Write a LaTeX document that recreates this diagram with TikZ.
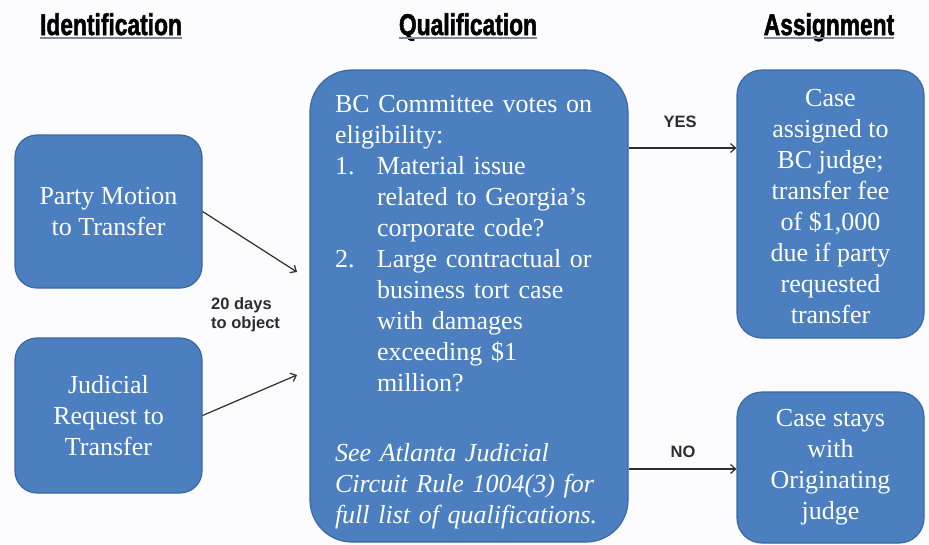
\documentclass[tikz,border=0pt]{standalone}
\usepackage{fontspec}
\setmainfont{Liberation Serif}
\setsansfont{Liberation Sans}
\newfontfamily\hdrfont[BoldFeatures={FakeBold=2}]{Liberation Sans}
\usetikzlibrary{arrows.meta}
\definecolor{boxfill}{HTML}{4C7FBF}
\definecolor{boxedge}{HTML}{3A68A2}
\definecolor{arrowc}{HTML}{2A2E33}
\definecolor{ulc}{HTML}{7F8A99}
\definecolor{bgc}{HTML}{FCFCFE}
\begin{document}
\begin{tikzpicture}[x=1pt,y=-1pt,
  bx/.style={draw=boxedge, line width=1.2pt, fill=boxfill, text=white, inner sep=0pt,
    font=\fontsize{26}{31}\selectfont, align=center},
  hdr/.style={anchor=base, inner sep=0pt, font=\hdrfont\bfseries\fontsize{30}{30}\selectfont},
  ul/.style={draw=ulc, line width=2pt},
  arr/.style={draw=arrowc, line width=1.2pt, -{Straight Barb[length=5pt,width=9pt,line width=1.2pt]}},
  lbl/.style={inner sep=0pt, font=\sffamily\bfseries\fontsize{16.5}{18.5}\selectfont, text=arrowc}]
\fill[bgc] (0,0) rectangle (929,544);
\useasboundingbox (0,0) rectangle (929,544);

% headers
\node[hdr] (h1) at (111,35) {\scalebox{0.76}[1]{Identification}};
\node[hdr] (h2) at (468,35) {\scalebox{0.76}[1]{Qualification}};
\node[hdr] (h3) at (829,35) {\scalebox{0.76}[1]{Assignment}};
\foreach \h in {h1,h2,h3}
  \draw[ul] ([yshift=-3pt]\h.base west) -- ([yshift=-3pt]\h.base east);

% left boxes
\node[bx, rounded corners=22pt, minimum width=187pt, minimum height=153pt] (pm) at (108.5,211.5)
  {Party Motion\\to Transfer};
\node[bx, rounded corners=22pt, minimum width=187pt, minimum height=155pt] (jr) at (108.5,415.5)
  {Judicial\\Request to\\Transfer};

% center box
\node[bx, rounded corners=42pt, minimum width=318pt, minimum height=472pt,
      text width=268pt, align=left] (qual) at (469,306)
  {\rule{0pt}{30pt}BC Committee votes on\\
   eligibility:\\
   \makebox[42pt][l]{1.}Material issue\\
   \hspace*{42pt}related to Georgia’s\\
   \hspace*{42pt}corporate code?\\
   \makebox[42pt][l]{2.}Large contractual or\\
   \hspace*{42pt}business tort case\\
   \hspace*{42pt}with damages\\
   \hspace*{42pt}exceeding \$1\\
   \hspace*{42pt}million?\\[39pt]
   \textit{See Atlanta Judicial}\\
   \textit{Circuit Rule 1004(3) for}\\
   \textit{full list of qualifications.}};

% right boxes
\node[bx, rounded corners=25pt, minimum width=187pt, minimum height=268pt] (ca) at (830.5,204)
  {\rule{0pt}{22pt}Case\\assigned to\\BC judge;\\transfer fee\\of \$1,000\\due if party\\requested\\transfer};
\node[bx, rounded corners=25pt, minimum width=187pt, minimum height=151pt] (cs) at (830.5,467.5)
  {Case stays\\with\\Originating\\judge};

% connectors
\coordinate (in1) at (297,272);
\coordinate (in2) at (297,375);
\draw[arr] (pm.east) -- (in1);
\draw[arr] (jr.east) -- (in2);
\coordinate (yesP) at (ca.west |- 0,148);
\coordinate (noP) at (cs.west |- 0,469);
\draw[arr] (qual.east |- yesP) -- (yesP);
\draw[arr] (qual.east |- noP) -- (noP);

% labels
\node[lbl, anchor=base west, align=left] (days) at (211,328) {20 days\\to object};
\node[lbl, anchor=base] (yes) at (680,127) {YES};
\node[lbl, anchor=base] (no) at (683,457) {NO};
\end{tikzpicture}
\end{document}
